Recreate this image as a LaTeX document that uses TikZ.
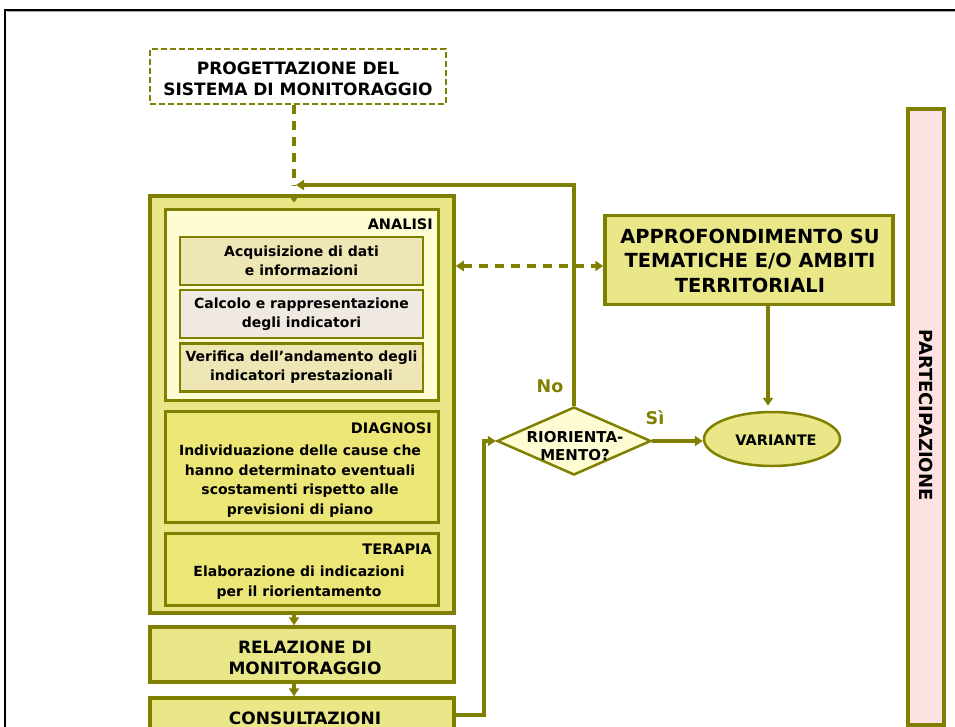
\documentclass[tikz,border=0pt]{standalone}
\usepackage{fontspec}
\setmainfont{DejaVu Sans}
\usetikzlibrary{shapes.geometric,arrows.meta}
\definecolor{ol}{RGB}{128,128,0}
\definecolor{mainfill}{RGB}{234,231,136}
\definecolor{boxfill}{RGB}{236,230,118}
\definecolor{lightfill}{RGB}{254,252,210}
\definecolor{tanfill}{RGB}{238,230,180}
\definecolor{pinkgray}{RGB}{240,233,226}
\definecolor{pinkfill}{RGB}{253,226,226}
\tikzset{
  frm/.style={draw=ol, line width=3.5pt},
  bigbox/.style={frm, fill=mainfill, inner sep=0pt},
  subbox/.style={draw=ol, line width=2.5pt, inner sep=0pt, minimum width=243pt, minimum height=48pt, align=center, font=\fontsize{14}{19}\selectfont\bfseries},
  hdr/.style={font=\fontsize{17}{21}\selectfont\bfseries, align=center, inner sep=0pt},
  lbl/.style={font=\fontsize{14.5}{16}\selectfont\bfseries, anchor=east, inner sep=0pt},
  body/.style={font=\fontsize{14}{19.5}\selectfont\bfseries, align=center, inner sep=0pt},
  arr/.style={draw=ol, line width=3.5pt, -{Triangle[length=8pt,width=10pt]}},
  darr/.style={draw=ol, line width=3.5pt, dash pattern=on 9pt off 7pt},
}
\begin{document}
\begin{tikzpicture}[x=1pt,y=-1pt]
\useasboundingbox (0,0) rectangle (955,727);
% outer frame
\draw[gray!70, line width=1pt] (7,12) -- (955,12);
\draw[black, line width=2pt] (5,727) -- (5,10) -- (955,10);

% progettazione
\node[draw=ol, line width=2.5pt, dash pattern=on 6pt off 3pt, minimum width=296pt, minimum height=55pt, fill=white] (prog) at (298,76.5) {};
\node[hdr] (progt) at (298,78.5) {PROGETTAZIONE DEL\\SISTEMA DI MONITORAGGIO};

% big box
\node[bigbox, minimum width=304pt, minimum height=417pt] (big) at (302,404.5) {};
% analisi
\node[draw=ol, line width=3pt, fill=lightfill, minimum width=273pt, minimum height=190pt, inner sep=0pt] (an) at (301.5,305) {};
\node[lbl] (anl) at (433,224) {ANALISI};
\node[subbox, fill=tanfill] (s1) at (301.5,261) {Acquisizione di dati\\e informazioni};
\node[subbox, fill=pinkgray] (s2) at (301.5,314) {Calcolo e rappresentazione\\degli indicatori};
\node[subbox, fill=tanfill] (s3) at (301.5,367.5) {Verifica dell’andamento degli\\indicatori prestazionali};
% diagnosi
\node[draw=ol, line width=3pt, fill=boxfill, minimum width=273pt, minimum height=111pt, inner sep=0pt] (dg) at (301.5,466.5) {};
\node[lbl] (dgl) at (432,428) {DIAGNOSI};
\node[body] (dgt) at (300,481) {Individuazione delle cause che\\hanno determinato eventuali\\scostamenti rispetto alle\\previsioni di piano};
% terapia
\node[draw=ol, line width=3pt, fill=boxfill, minimum width=273pt, minimum height=72pt, inner sep=0pt] (tr) at (301.5,569) {};
\node[lbl] (trl) at (432,549) {TERAPIA};
\node[body, font=\fontsize{14}{20.5}\selectfont\bfseries] (trt) at (299,582.5) {Elaborazione di indicazioni\\per il riorientamento};

% relazione
\node[bigbox, minimum width=304pt, minimum height=55pt] (rel) at (302,654.5) {};
\node[hdr] (relt) at (305,657.5) {RELAZIONE DI\\MONITORAGGIO};
% consultazioni
\node[bigbox, minimum width=304pt, minimum height=55pt] (cons) at (302,725.5) {};
\node[hdr] (const) at (305,718) {CONSULTAZIONI};

% approfondimento
\node[bigbox, minimum width=288pt, minimum height=89pt] (ap) at (749,260) {};
\node[align=center, inner sep=0pt, font=\fontsize{19.4}{24.5}\selectfont\bfseries] (apt) at (750,260.5) {APPROFONDIMENTO SU\\TEMATICHE E/O AMBITI\\TERRITORIALI};

% diamond
\node[diamond, draw=ol, line width=2.5pt, fill=lightfill, minimum width=154pt, minimum height=68pt, inner sep=0pt] (d) at (574,441) {};
\node[align=center, font=\fontsize{15}{18}\selectfont\bfseries, inner sep=0pt] (dt) at (575,446) {RIORIENTA-\\MENTO?};

% variante
\node[ellipse, draw=ol, line width=2.5pt, fill=mainfill, minimum width=136pt, minimum height=54pt, inner sep=0pt] (var) at (772,439) {};
\node[font=\fontsize{14.5}{16}\selectfont\bfseries, inner sep=0pt] (vart) at (776,440) {VARIANTE};

% partecipazione
\node[draw=ol, line width=3.5pt, fill=pinkfill, minimum width=36pt, minimum height=616pt, inner sep=0pt] (par) at (926,417) {};
\node[rotate=-90, font=\fontsize{18}{20}\selectfont\bfseries, inner sep=0pt] (part) at (926,415) {PARTECIPAZIONE};

% connectors
\coordinate (ret) at (296,185);
\coordinate (c1) at (cons.east |- 0,715);
\coordinate (c2) at (484,715);
\draw[darr] ([xshift=-4pt]prog.south) -- ([xshift=-8pt,yshift=8pt]big.north);
\draw[ol, fill=ol] ([xshift=-13pt,yshift=-1pt]big.north) -- ([xshift=-3pt,yshift=-1pt]big.north) -- ([xshift=-8pt,yshift=-8pt]big.north) -- cycle;
\draw[arr] (d.north) |- (ret);
\node[text=ol, font=\fontsize{17.5}{19}\selectfont\bfseries] (no) at (550,386) {No};
\node[text=ol, font=\fontsize{17.5}{19}\selectfont\bfseries] (si) at (655,418) {Sì};
\draw[arr] (d.east) -- (d.east -| var.west);
\draw[arr] (ap.south -| 768,0) -- ([yshift=5pt]var.north -| 768,0);
\draw[darr, {Triangle[length=8pt,width=10pt]}-{Triangle[length=8pt,width=10pt]}] (big.east |- 0,266) -- (ap.west |- 0,266);
\draw[arr] (big.south -| 294,0) -- (rel.north -| 294,0);
\draw[arr] (rel.south -| 294,0) -- (cons.north -| 294,0);
\draw[arr] (c1) -- (c2) |- (d.west);
\end{tikzpicture}
\end{document}
